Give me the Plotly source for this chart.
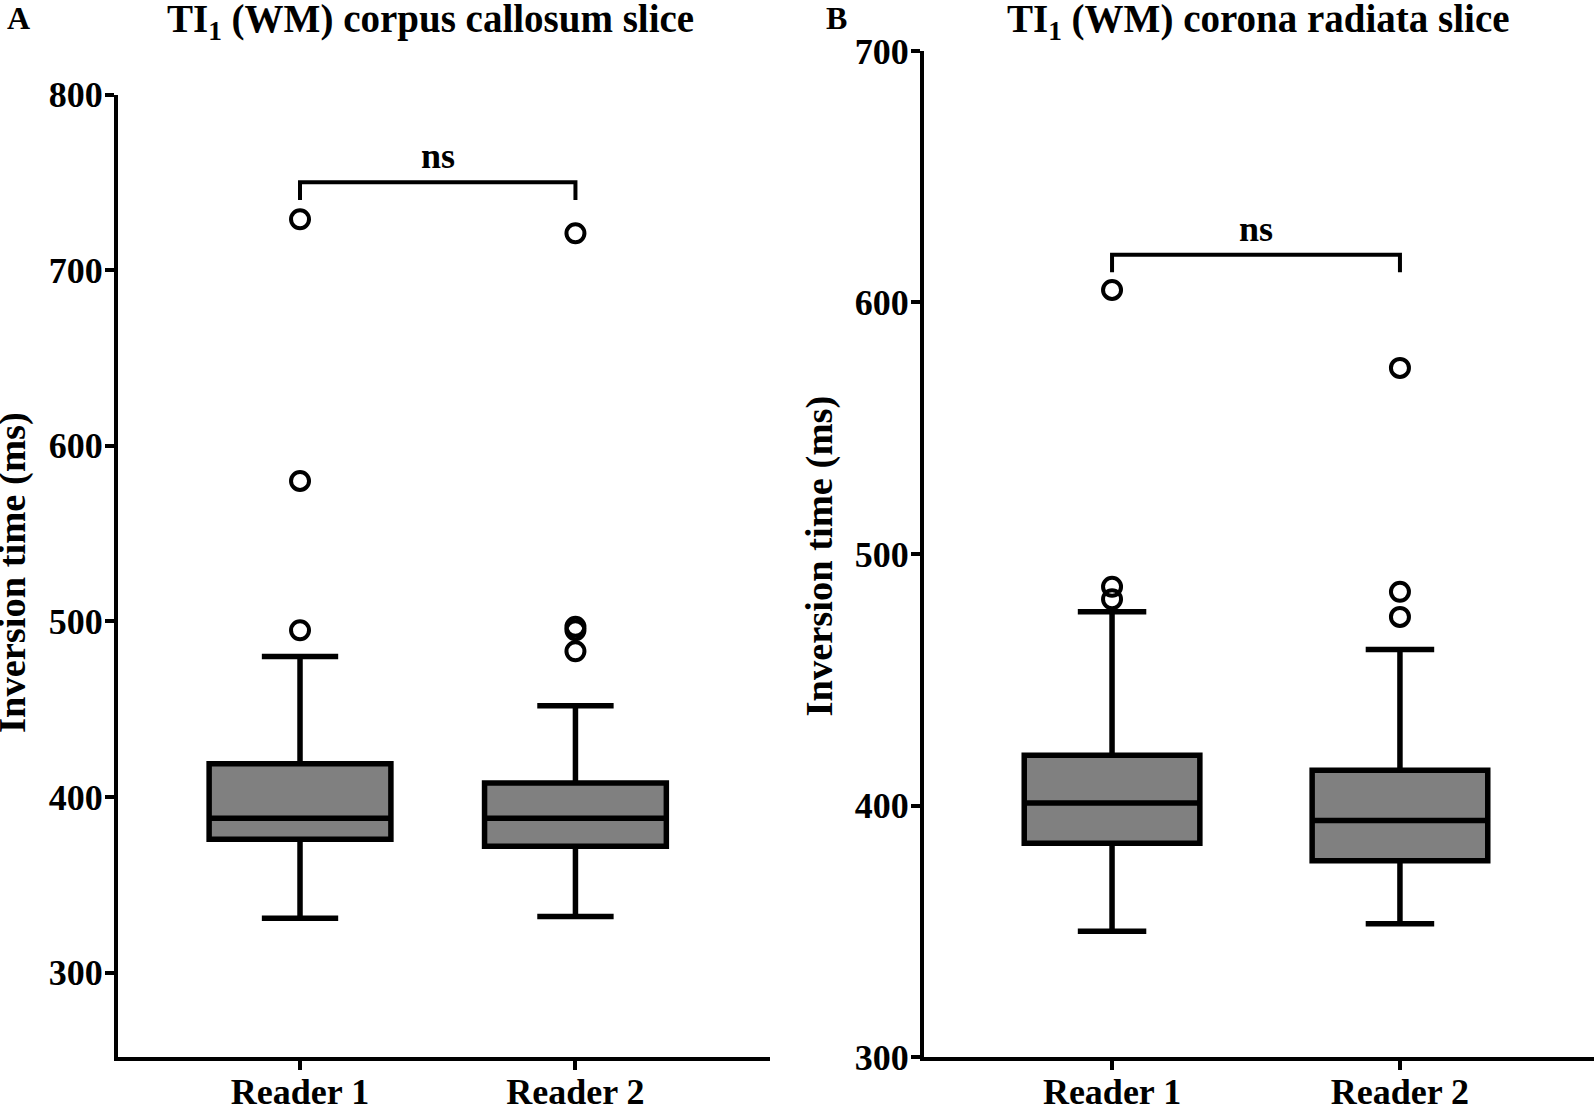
import plotly.graph_objects as go

# values (ms)
readers = ['Reader 1', 'Reader 2']

# panel A: corpus callosum slice
cc_q1 = [376, 372]
cc_median = [388, 388]
cc_q3 = [419, 408]
cc_low = [331, 332]
cc_high = [480, 452]
cc_out_r1 = [729, 580, 495]
cc_out_r2 = [721, 497, 495, 483]

# panel B: corona radiata slice
cr_q1 = [385, 378]
cr_median = [401, 394]
cr_q3 = [420, 414]
cr_low = [350, 353]
cr_high = [477, 462]
cr_out_r1 = [605, 487, 482]
cr_out_r2 = [574, 485, 475]

# level of the "ns" brackets
cc_bracket = 750
cr_bracket = 619

FONT = 'Liberation Serif'
BLACK = '#000000'
GREY = '#808080'
W, H = 1594, 1108

fig = go.Figure()


def add_panel(q1, med, q3, low, high, out1, out2, xa, ya, width, whisk):
    fig.add_trace(go.Box(
        x=readers, q1=q1, median=med, q3=q3,
        lowerfence=low, upperfence=high,
        width=width, whiskerwidth=whisk,
        fillcolor=GREY, line=dict(color=BLACK, width=5.5),
        boxpoints=False, showlegend=False, hoverinfo='skip',
        xaxis=xa, yaxis=ya,
    ))
    for name, vals in zip(readers, [out1, out2]):
        fig.add_trace(go.Scatter(
            x=[name] * len(vals), y=vals, mode='markers',
            marker=dict(symbol='circle-open', size=18, color=BLACK,
                        line=dict(width=4, color=BLACK)),
            showlegend=False, hoverinfo='skip', xaxis=xa, yaxis=ya,
        ))


add_panel(cc_q1, cc_median, cc_q3, cc_low, cc_high, cc_out_r1, cc_out_r2,
          'x', 'y', 0.66, 0.42)
add_panel(cr_q1, cr_median, cr_q3, cr_low, cr_high, cr_out_r1, cr_out_r2,
          'x2', 'y2', 0.61, 0.39)

axis_common = dict(
    showline=True, linecolor=BLACK, linewidth=4, ticks='outside',
    ticklen=9, tickwidth=4, tickcolor=BLACK, showgrid=False,
    zeroline=False, automargin=False,
    tickfont=dict(family=FONT, size=36, color=BLACK, weight='bold'),
    fixedrange=True,
)
xaxis_common = dict(axis_common, type='category', ticklabelstandoff=-9)
yaxis_common = dict(axis_common, ticklabelstandoff=-5)

fig.update_layout(
    width=W, height=H,
    margin=dict(l=0, r=0, t=0, b=0),
    paper_bgcolor='white', plot_bgcolor='white',
    font=dict(family=FONT, color=BLACK),
    xaxis=dict(domain=[0.074, 0.483], range=[-0.661, 1.706], anchor='y',
               **xaxis_common),
    yaxis=dict(domain=[0.046, 0.9147], range=[252, 800],
               tickvals=[300, 400, 500, 600, 700, 800], anchor='x',
               **yaxis_common),
    xaxis2=dict(domain=[0.5797, 1.0], range=[-0.653, 1.674], anchor='y2',
                **xaxis_common),
    yaxis2=dict(domain=[0.046, 0.954], range=[300, 700],
                tickvals=[300, 400, 500, 600, 700], anchor='x2',
                **yaxis_common),
)

# significance brackets
for xa, ya, level, drop in [('x', 'y', cc_bracket, 10), ('x2', 'y2', cr_bracket, 7)]:
    fig.add_shape(type='path',
                  path=f'M 0,{level - drop} L 0,{level} L 1,{level} L 1,{level - drop}',
                  xref=xa, yref=ya, line=dict(color=BLACK, width=4))
    fig.add_annotation(x=0.5, y=level, xref=xa, yref=ya, text='<b>ns</b>',
                       showarrow=False, yanchor='bottom', yshift=4,
                       font=dict(family=FONT, size=36, color=BLACK))

title_font = dict(family=FONT, size=39, color=BLACK)
label_font = dict(family=FONT, size=32, color=BLACK)
ytitle_font = dict(family=FONT, size=38.5, color=BLACK)


def paper_text(x, y, text, font, angle=0):
    fig.add_annotation(x=x / W, y=1 - y / H, xref='paper', yref='paper',
                       xanchor='center', yanchor='middle', text=text,
                       textangle=angle, showarrow=False, font=font)


paper_text(430, 21, '<b>TI<sub>1</sub> (WM) corpus callosum slice</b>', title_font)
paper_text(1258, 21, '<b>TI<sub>1</sub> (WM) corona radiata slice</b>', title_font)
paper_text(18, 17.5, '<b>A</b>', label_font)
paper_text(836, 17.5, '<b>B</b>', label_font)
paper_text(12, 573, '<b>Inversion time (ms)</b>', ytitle_font, -90)
paper_text(818.5, 556, '<b>Inversion time (ms)</b>', ytitle_font, -90)

# the page body has a default 8 px margin; drop it so the figure fills the window
fig.write_html('out.html', config={'displayModeBar': False},
               post_script="document.body.style.margin='0';")
